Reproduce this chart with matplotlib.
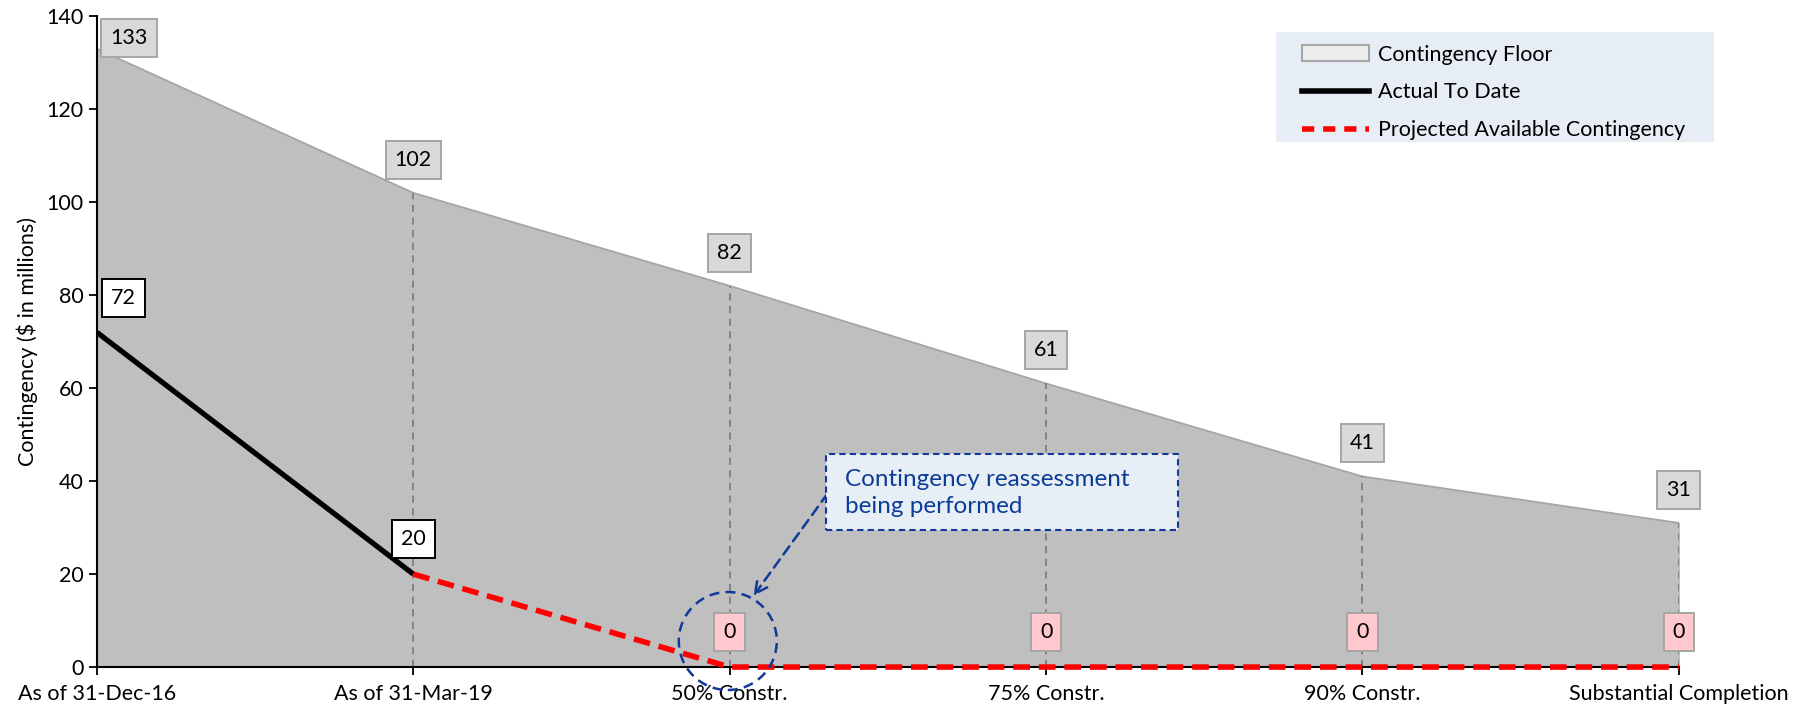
import matplotlib.pyplot as plt
from matplotlib.patches import Patch, Ellipse, Rectangle
from matplotlib.lines import Line2D

plt.rcParams['font.family'] = ['Lato', 'DejaVu Sans']

# Data
categories = ["As of 31-Dec-16", "As of 31-Mar-19", "50% Constr.",
              "75% Constr.", "90% Constr.", "Substantial Completion"]
floor = [133, 102, 82, 61, 41, 31]
actual = [72, 20]              # first two milestones
projected = [20, 0, 0, 0, 0]   # from milestone 1 onwards

x = list(range(len(categories)))
FS = 15.5
BLUE = '#10399A'

fig = plt.figure(figsize=(18.12, 7.07), dpi=100)
ax = fig.add_axes([0.0535, 0.0565, 0.873, 0.9205])

# contingency floor area
ax.fill_between(x, floor, 0, color='#BFBFBF', zorder=1)
ax.plot(x, floor, color='#A6A6A6', lw=1.3, zorder=2)

# dashed gray drop lines at each milestone
for xi, fv in zip(x[1:], floor[1:]):
    ax.plot([xi, xi], [0, fv], color='#7F7F7F', lw=1.3, ls=(0, (4, 3)), zorder=2)

# actual and projected lines
ax.plot(x[:2], actual, color='black', lw=3.8, zorder=4, solid_capstyle='butt')
ax.plot(x[1:], projected, color='#FF0000', lw=4, ls=(0, (3, 1.6)), zorder=5,
        clip_on=False)

# value labels
def box_label(xv, yv, txt, fc, ec, dx=0, dy=24):
    ax.annotate(txt, (xv, yv), xytext=(dx, dy), textcoords='offset points',
                ha='center', va='center', fontsize=FS, zorder=6,
                bbox=dict(boxstyle='square,pad=0.42', fc=fc, ec=ec, lw=1.4))

for xi, fv in zip(x, floor):
    if xi == 0:
        box_label(xi, fv, str(fv), '#D9D9D9', '#A6A6A6', dx=23, dy=8)
    else:
        box_label(xi, fv, str(fv), '#D9D9D9', '#A6A6A6')
for xi, av in zip(x[:2], actual):
    box_label(xi, av, str(av), 'white', 'black', dx=19 if xi == 0 else 0, dy=25)
for xi, pv in zip(x[2:], projected[1:]):
    box_label(xi, pv, str(pv), '#FFC7CE', '#A6A6A6', dy=25)

# axes styling
ax.set_xlim(0, 5)
ax.set_ylim(0, 140)
ax.set_yticks(range(0, 141, 20))
ax.set_xticks(x)
ax.set_xticklabels(categories)
ax.tick_params(axis='both', labelsize=FS, length=6, width=1.3, direction='out')
ax.tick_params(axis='x', pad=6)
for s in ['top', 'right']:
    ax.spines[s].set_visible(False)
for s in ['left', 'bottom']:
    ax.spines[s].set_linewidth(1.5)
ax.set_ylabel("Contingency ($ in millions)", fontsize=FS, labelpad=6)

# callout: circle, arrow and text box
fig.canvas.draw()
bb = ax.get_window_extent()
px_x = bb.width / 5.0
px_y = bb.height / 140.0
r = 49
ax.add_patch(Ellipse((1.994, 5.6), 2 * r / px_x, 2 * r / px_y, fill=False,
                     ec=BLUE, lw=1.8, ls=(0, (4, 2.5)), zorder=7,
                     clip_on=False))
ax.annotate('', xy=(2.075, 15.3), xytext=(2.309, 37.3),
            arrowprops=dict(arrowstyle='->', color=BLUE, lw=1.8,
                            ls=(0, (4, 2.5)), mutation_scale=22,
                            shrinkA=0, shrinkB=0), zorder=7)
ax.add_patch(Rectangle((2.303, 29.5), 1.115, 16.4, fc='#E8EEF6', ec=BLUE,
                       lw=1.5, ls=(0, (3, 2)), zorder=8))
ax.text(2.366, 37.5, "Contingency reassessment\nbeing performed",
        ha='left', va='center', fontsize=17.5, color='#0B3C97', zorder=9,
        linespacing=1.38)

# legend on a light blue panel
fig.patches.append(Rectangle((0.7042, 0.7992), 0.2417, 0.1556,
                             transform=fig.transFigure, fc='#E6EDF5',
                             ec='none', zorder=9))
handles = [Patch(fc='#EDEDED', ec='#A6A6A6', lw=1.5),
           Line2D([], [], color='black', lw=4),
           Line2D([], [], color='#FF0000', lw=4, ls=(0, (2.2, 1.6)))]
labels = ["Contingency Floor", "Actual To Date",
          "Projected Available Contingency"]
leg = fig.legend(handles, labels, loc='upper left',
                 bbox_to_anchor=(0.7185, 0.937), bbox_transform=fig.transFigure,
                 fontsize=FS, frameon=False, handlelength=3.1,
                 handletextpad=0.45, labelspacing=0.83, borderpad=0,
                 borderaxespad=0)
leg.set_zorder(10)

fig.savefig('out.png', dpi=100)
